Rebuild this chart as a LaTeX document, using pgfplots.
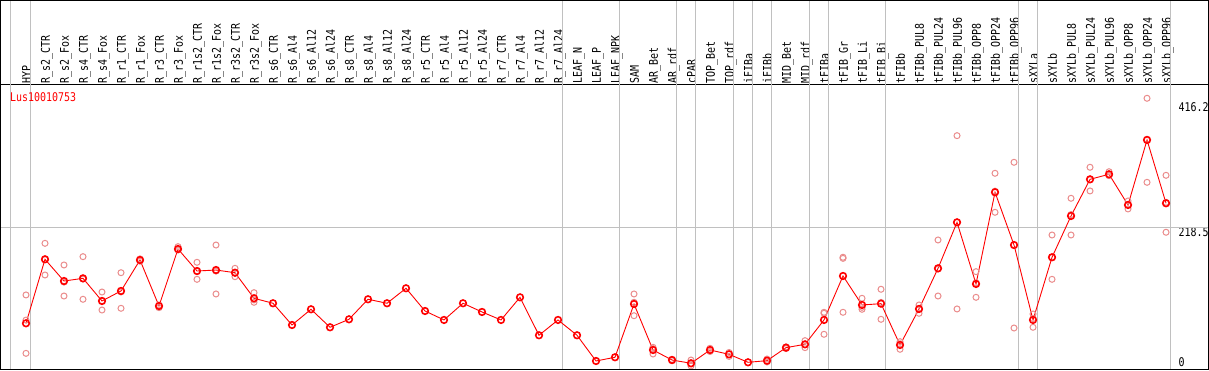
\documentclass[border=0pt]{standalone}
\usepackage{fontspec}
\usepackage{pgfplots}
\pgfplotsset{compat=1.18}
\newfontfamily\fx[FakeStretch=0.83]{DejaVu Sans Mono}
\newcommand{\fxs}{\fx\fontsize{12}{12}\selectfont}
\definecolor{rep}{RGB}{234,140,140}
\definecolor{gridc}{RGB}{192,192,192}
\begin{document}
\begin{tikzpicture}
\begin{axis}[
  at={(0.5pt,0.5pt)}, anchor=south west,
  scale only axis, width=1208pt, height=284.5pt,
  xmin=-1.342, xmax=62.237, ymin=1.5, ymax=436.2,
  axis line style={black, line width=1pt},
  major tick length=0pt,
  xtick pos=upper, xticklabel pos=upper,
  xtick={0,...,60},
  xticklabels={HYP, R\_s2\_CTR, R\_s2\_Fox, R\_s4\_CTR, R\_s4\_Fox, R\_r1\_CTR, R\_r1\_Fox, R\_r3\_CTR, R\_r3\_Fox, R\_r1s2\_CTR, R\_r1s2\_Fox, R\_r3s2\_CTR, R\_r3s2\_Fox, R\_s6\_CTR, R\_s6\_Al4, R\_s6\_Al12, R\_s6\_Al24, R\_s8\_CTR, R\_s8\_Al4, R\_s8\_Al12, R\_s8\_Al24, R\_r5\_CTR, R\_r5\_Al4, R\_r5\_Al12, R\_r5\_Al24, R\_r7\_CTR, R\_r7\_Al4, R\_r7\_Al12, R\_r7\_Al24, LEAF\_N, LEAF\_P, LEAF\_NPK, SAM, AR\_Bet, AR\_rdf, cPAR, TOP\_Bet, TOP\_rdf, iFIBa, iFIBb, MID\_Bet, MID\_rdf, tFIBa, tFIB\_Gr, tFIB\_Li, tFIB\_Bi, tFIBb, tFIBb\_PUL8, tFIBb\_PUL24, tFIBb\_PUL96, tFIBb\_OPP8, tFIBb\_OPP24, tFIBb\_OPP96, sXYLa, sXYLb, sXYLb\_PUL8, sXYLb\_PUL24, sXYLb\_PUL96, sXYLb\_OPP8, sXYLb\_OPP24, sXYLb\_OPP96},
  xticklabel style={rotate=90, anchor=west, inner sep=0pt, font=\fxs, text height=8.75pt, text depth=0pt, xshift=1.5pt, yshift=-0.5pt},
  extra x ticks={-0.84,0.24,28.24,31.24,34.24,35.24,37.24,38.24,39.24,41.24,42.24,45.24,52.24,53.24,60.24},
  extra x tick labels={},
  extra x tick style={grid=major, major grid style={gridc, line width=1pt},
     major tick length=86pt, tick align=outside, tick style={gridc, line width=1pt}},
  ytick={1.5,218.5,416.2},
  yticklabels={\raisebox{3.5pt}{0},\raisebox{-9pt}{218.5},\raisebox{-13pt}{416.2}},
  yticklabel pos=right, ytick pos=right,
  yticklabel style={anchor=base west, inner sep=0pt, font=\fxs, xshift=-30.2pt},
  extra y ticks={218.5}, extra y tick labels={},
  extra y tick style={grid=major, major grid style={gridc, line width=1pt}},
  clip=false,
]
\addplot[only marks, mark=o, mark size=3pt, draw=rep, mark options={line width=1pt, draw=rep}] table {
x y
0 115.4
0 77
0 26.2
1 194.3
1 145.9
1 169.5
2 161.2
2 113.8
2 135.1
3 173.9
3 108.8
3 139.7
4 119.9
4 92.4
4 106.3
5 149.4
5 95.0
5 120
6 170.5
6 167
7 96
7 100
8 189.2
8 184
9 165.3
9 139.3
9 151.4
10 191.7
10 116.9
10 151.9
11 156.1
11 143.3
11 148.8
12 118.9
12 104.2
12 107.8
32 116.9
32 83.7
32 104.2
33 35.4
33 25.2
33 33.3
34 17
34 15
35 16
35 6.9
35 10
36 33.9
36 29
37 27.5
37 21.5
39 17.5
39 13
40 36
40 33.5
41 45.6
41 34.9
41 39.5
42 88.9
42 55.3
42 87.4
43 173
43 88.9
43 171.3
44 110.3
44 93.5
44 96.5
45 124.1
45 78.2
45 104
46 44
46 32.4
46 40.6
47 100.1
47 87.4
47 94.5
48 199.4
48 113.8
48 155
49 358.8
49 94.0
49 226.4
50 151
50 111.8
50 133.8
51 301.3
51 241.7
51 274
52 318.1
52 64.9
52 192
53 86.3
53 66
53 79.3
54 207
54 139.3
54 172.7
55 263.1
55 207
55 238.2
56 310.5
56 274.3
56 291.5
57 303.7
57 298
57 297.7
58 259
58 246.8
58 253
59 415.9
59 287.5
59 353.2
60 298.2
60 211.2
60 257
};
\addplot[red, line width=0.9pt, mark=o, mark size=3.3pt, mark options={line width=1.6pt, red}] table {
x y
0 72.1
1 169.9
2 136.7
3 140.8
4 106.2
5 121.5
6 168.8
7 98.5
8 185.6
9 152.0
10 153.5
11 149.4
12 110.3
13 102.7
14 69.5
15 93.5
16 66.0
17 78.2
18 108.8
19 102.7
20 125.6
21 90.9
22 77.2
23 102.7
24 89.4
25 77.2
26 111.8
27 53.8
28 77.2
29 53.8
30 14.5
31 20.2
32 101.6
33 31.3
34 16.0
35 11.0
36 31.3
37 24.7
38 12.5
39 15.0
40 34.9
41 40.0
42 77.2
43 144.4
44 100.1
45 102.1
46 39.0
47 94.0
48 156.1
49 226.4
50 132.2
51 272.3
52 191.7
53 77.2
54 173.0
55 236.1
56 292.1
57 299.8
58 252.9
59 352.2
60 255.5
};
\node[anchor=north west, inner sep=0pt, text=red, font=\fxs, xshift=9.5pt, yshift=-7.5pt] at (rel axis cs:0,1) {Lus10010753};
\end{axis}
\pgfresetboundingbox
\useasboundingbox (0,0) rectangle (1209pt,370pt);
\draw[black, line width=1pt] (0.5pt,0.5pt) rectangle (1208.5pt,369.5pt);
\end{tikzpicture}
\end{document}
